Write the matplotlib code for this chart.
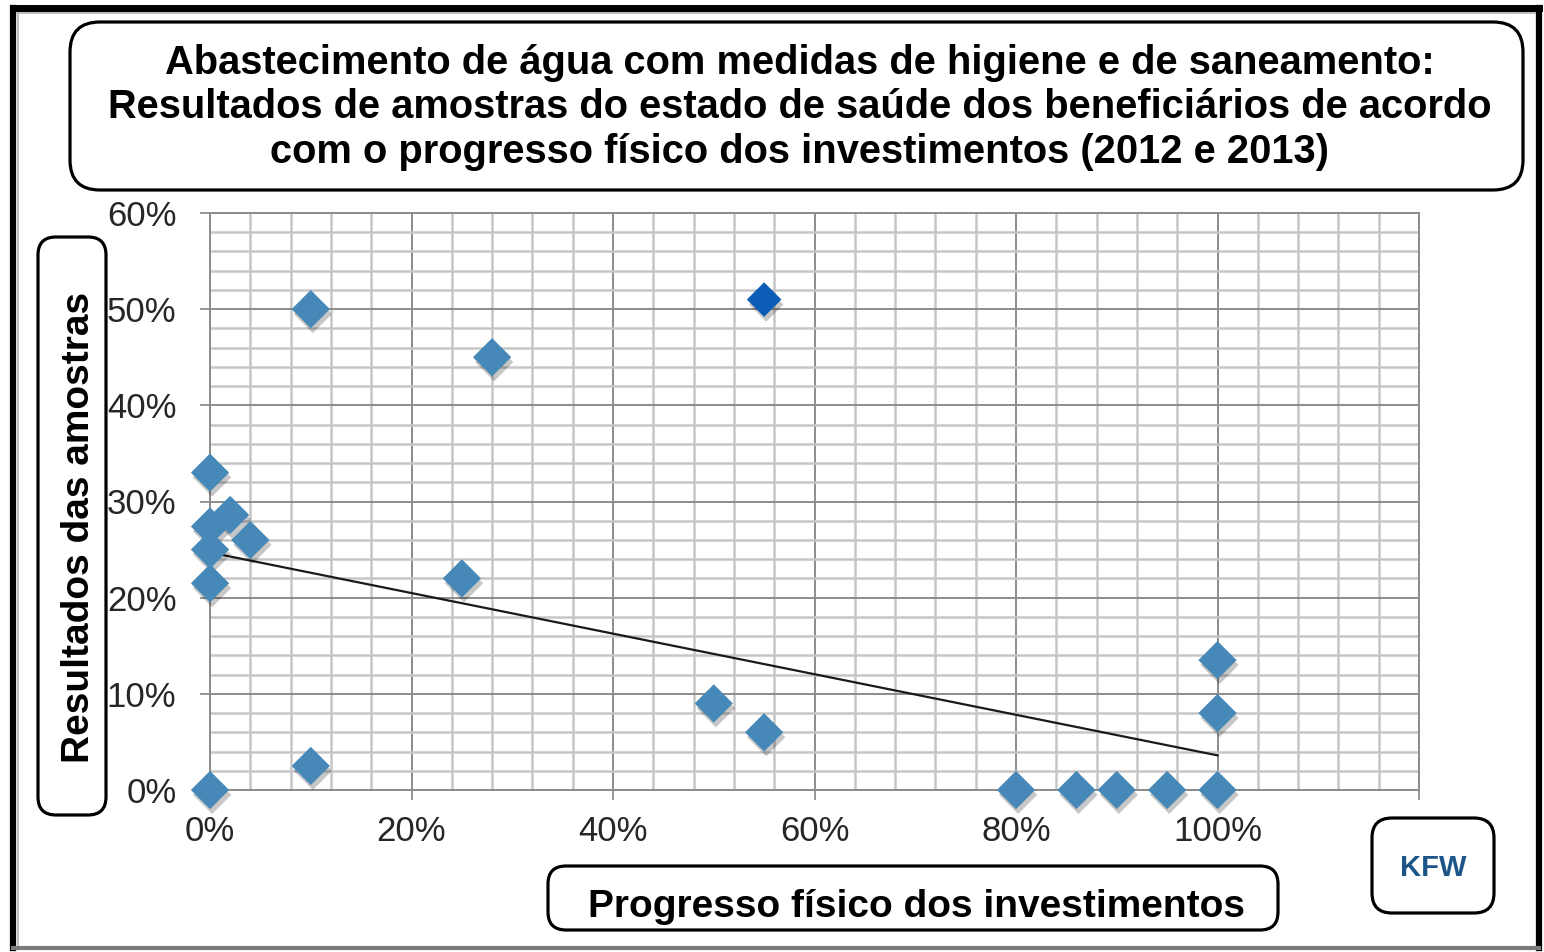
import matplotlib
matplotlib.use("Agg")
import matplotlib.pyplot as plt
from matplotlib.patches import FancyBboxPatch
from matplotlib.lines import Line2D
from matplotlib.transforms import IdentityTransform
import matplotlib.patheffects as pe
from matplotlib.ticker import MultipleLocator, FixedLocator, FixedFormatter

plt.rcParams['font.family'] = ['Liberation Sans', 'DejaVu Sans']

# ---------------- data ----------------
progress = [0, 10, 10, 28, 0, 0, 2, 4, 0, 0, 25, 50, 55, 80, 86, 90, 95, 100, 100, 100]
results = [0, 2.5, 50, 45, 33, 27.4, 28.6, 26, 25, 21.5, 22, 9, 6, 0, 0, 0, 0, 0, 13.5, 8]
highlight_progress = [55]
highlight_results = [51]
trend_x = [0, 100]
trend_y = [24.7, 3.6]

x_ticks = [0, 20, 40, 60, 80, 100, 120]
x_tick_labels = ['0%', '20%', '40%', '60%', '80%', '100%', '']
y_ticks = [0, 10, 20, 30, 40, 50, 60]
y_tick_labels = ['0%', '10%', '20%', '30%', '40%', '50%', '60%']

title_lines = [
    "Abastecimento de água com medidas de higiene e de saneamento:",
    "Resultados de amostras do estado de saúde dos beneficiários de acordo",
    "com o progresso físico dos investimentos (2012 e 2013)",
]
y_label = "Resultados das amostras"
x_label = "Progresso físico dos investimentos"
logo_text = "KFW"

# ---------------- figure ----------------
W, H = 1544, 952
fig = plt.figure(figsize=(W / 100, H / 100), dpi=100)
fig.patch.set_facecolor('white')

def px(x, y):
    return x, H - y

ax = fig.add_axes([210 / W, 1 - 790 / H, (1419 - 210) / W, (790 - 213) / H])
ax.set_xlim(0, 120)
ax.set_ylim(0, 60)

major_c = '#8c8c8c'
minor_c = '#c6c6c6'
ax.xaxis.set_major_locator(FixedLocator(x_ticks))
ax.xaxis.set_major_formatter(FixedFormatter(x_tick_labels))
ax.yaxis.set_major_locator(FixedLocator(y_ticks))
ax.yaxis.set_major_formatter(FixedFormatter(y_tick_labels))
ax.xaxis.set_minor_locator(MultipleLocator(4))
ax.yaxis.set_minor_locator(MultipleLocator(2))
ax.grid(which='minor', color=minor_c, lw=1.8, zorder=0)
ax.grid(which='major', color=major_c, lw=1.4, zorder=0)
ax.set_axisbelow(True)
ax.tick_params(which='minor', length=0)
ax.tick_params(which='major', length=7.2, width=1.3, color=major_c,
               labelsize=25, labelcolor='#262626')
ax.tick_params(axis='x', pad=11)
ax.tick_params(axis='y', pad=17)
for s in ax.spines.values():
    s.set_color(major_c)
    s.set_linewidth(1.4)

shadow = [pe.SimplePatchShadow(offset=(1.5, -3.5), shadow_rgbFace='#000000', alpha=0.22), pe.Normal()]
ax.plot(trend_x, trend_y, color='#1a1a1a', lw=1.6, zorder=3)
ax.scatter(progress, results, marker='D', s=380, color='#4688b7', edgecolors='none',
           zorder=4, clip_on=False, path_effects=shadow)
ax.scatter(highlight_progress, highlight_results, marker='D', s=310, color='#0b5db5',
           edgecolors='none', zorder=4, clip_on=False, path_effects=shadow)

# ---------------- boxes and texts ----------------
def rbox(x0, y0, x1, y1, r=26, lw=2.3):
    p = FancyBboxPatch((x0, H - y1), x1 - x0, y1 - y0,
                       boxstyle=f"round,pad=0,rounding_size={r}",
                       transform=IdentityTransform(), facecolor='white',
                       edgecolor='black', lw=lw, zorder=10)
    fig.patches.append(p)

rbox(70, 22, 1523, 190, r=30)
rbox(38, 237, 106, 815, r=18)
rbox(548, 866, 1278, 930, r=18)
rbox(1372, 818, 1494, 913, r=20)

for line, base in zip(title_lines, [74, 118, 163]):
    fig.text(*px(800, base), line, transform=IdentityTransform(), ha='center',
             va='baseline', fontsize=28.7, fontweight='bold', zorder=11)

fig.text(*px(79, 527), y_label, transform=IdentityTransform(), ha='center',
         va='center', rotation=90, fontsize=28, fontweight='bold', zorder=11)
fig.text(*px(916, 917), x_label, transform=IdentityTransform(), ha='center',
         va='baseline', fontsize=28, fontweight='bold', zorder=11)
fig.text(*px(1433, 868), logo_text, transform=IdentityTransform(), ha='center',
         va='center', fontsize=21, fontweight='bold', color='#1d5588', zorder=11)

# outer frame
def fline(x0, y0, x1, y1, color, lw):
    fig.lines.append(Line2D([x0, x1], [H - y0, H - y1], transform=IdentityTransform(),
                            color=color, lw=lw, zorder=12, solid_capstyle='projecting'))

fline(13, 8, 1539, 8, 'black', 5.0)
fline(13, 8, 13, 948, 'black', 4.5)
fline(1539, 8, 1539, 948, 'black', 4.5)
fline(13, 948, 1539, 948, '#7a7a7a', 3.0)
fline(17.5, 13, 17.5, 945, '#b0b0b0', 1.2)
fline(17, 12.5, 1535, 12.5, '#b0b0b0', 1.2)

fig.savefig('out.png', dpi=100, facecolor='white')
